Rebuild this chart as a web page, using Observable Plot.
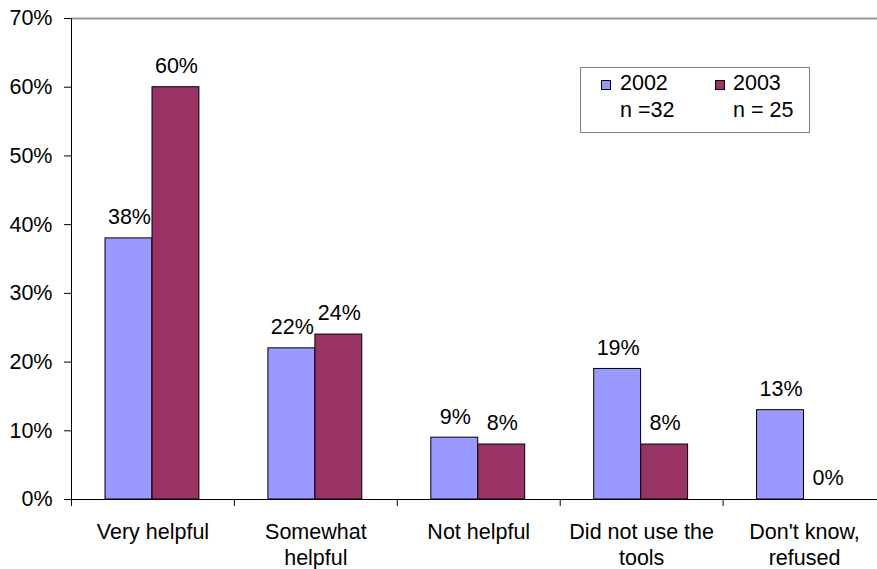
<!DOCTYPE html>
<html>
<head>
<meta charset="utf-8">
<script src="https://cdn.jsdelivr.net/npm/d3@7"></script>
<script src="https://cdn.jsdelivr.net/npm/@observablehq/plot@0.6"></script>
<style>
  body { margin: 0; background: #fff; }
  #wrap { position: relative; width: 877px; height: 569px; font-family: "Liberation Sans", Arial, sans-serif; }
  #legend { position: absolute; left: 580px; top: 67px; width: 228px; height: 64px; border: 1px solid #808080; background: #fff; font-size: 21.5px; color: #000; }
  #legend span { position: absolute; white-space: pre; line-height: 1; }
  #legend .sw { width: 8px; height: 8px; border: 1px solid #000; }
</style>
</head>
<body>
<div id="wrap"></div>
<script>
const categories = ["Very helpful", "Somewhat helpful", "Not helpful", "Did not use the tools", "Don't know, refused"];
const tickLabels = ["Very helpful", "Somewhat\nhelpful", "Not helpful", "Did not use the\ntools", "Don't know,\nrefused"];
const years = ["2002", "2003"];
const sampleSizes = ["n =32", "n = 25"];
const values2002 = [38, 22, 9, 19, 13];
const values2003 = [60, 24, 8, 8, 0];
const yTicks = [0, 10, 20, 30, 40, 50, 60, 70];
const colors = ["#9999FF", "#993366"];

const d2002 = categories.map((c, i) => ({category: c, year: "2002", value: values2002[i]}));
const d2003 = categories.map((c, i) => ({category: c, year: "2003", value: values2003[i]}));

const font = "Liberation Sans, Arial, sans-serif";
const fs = 21.5;

const chart = Plot.plot({
  width: 877,
  height: 569,
  marginLeft: 71,
  marginRight: 0,
  marginTop: 18,
  marginBottom: 70,
  style: {fontFamily: font, fontSize: fs + "px", color: "#000", background: "#fff"},
  x: {type: "band", domain: categories, padding: 0, round: false, range: [71, 885.5], label: null},
  y: {domain: [0, 70], label: null},
  marks: [
    Plot.ruleY([70], {stroke: "#999", strokeWidth: 2}),
    Plot.barY(d2002, {x: "category", y: "value", fill: colors[0], stroke: "#000", strokeWidth: 1, insetLeft: 34, insetRight: 82}),
    Plot.barY(d2003, {x: "category", y: "value", fill: colors[1], stroke: "#000", strokeWidth: 1, insetLeft: 81, insetRight: 35}),
    Plot.text(d2002, {x: "category", y: "value", text: d => d.value + "%", dx: -23.5, dy: -21, fontSize: fs}),
    Plot.text(d2003, {x: "category", y: "value", text: d => d.value + "%", dx: 23.5, dy: -21, fontSize: fs}),
    Plot.axisY({ticks: yTicks, tickFormat: d => d + "%", tickSize: 7, tickPadding: 12, fontSize: fs, label: null}),
    Plot.axisX({ticks: categories, tickSize: 0, tickPadding: 22, tickFormat: (d, i) => tickLabels[categories.indexOf(d)], fontSize: fs, lineHeight: 1.17, label: null}),
    Plot.axisX({ticks: categories, tickSize: 7, text: null, dx: -81.45, label: null}),
    Plot.frame({anchor: "left", stroke: "#000"}),
    Plot.frame({anchor: "bottom", stroke: "#000"})
  ]
});

const wrap = document.getElementById("wrap");
wrap.appendChild(chart);

const legend = document.createElement("div");
legend.id = "legend";
const items = [
  {cls: "sw", left: 20, top: 12, bg: colors[0]},
  {text: years[0], left: 39, top: 5},
  {text: sampleSizes[0], left: 39, top: 32},
  {cls: "sw", left: 134, top: 12, bg: colors[1]},
  {text: years[1], left: 152, top: 5},
  {text: sampleSizes[1], left: 152, top: 32}
];
for (const it of items) {
  const s = document.createElement("span");
  if (it.cls) { s.className = it.cls; s.style.background = it.bg; }
  if (it.text) s.textContent = it.text;
  s.style.left = it.left + "px";
  s.style.top = it.top + "px";
  legend.appendChild(s);
}
wrap.appendChild(legend);
</script>
</body>
</html>
